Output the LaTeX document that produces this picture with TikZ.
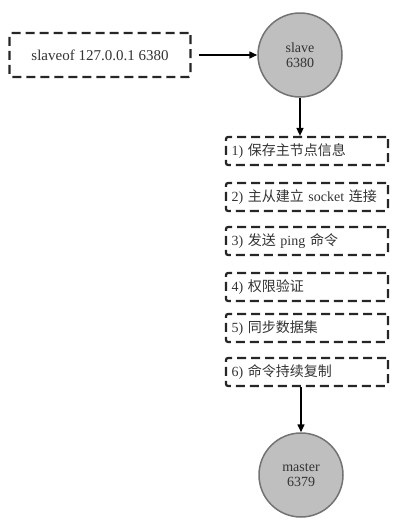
\documentclass[tikz,border=0pt]{standalone}
\usepackage{fontspec}
\setmainfont{Liberation Serif}
\newfontfamily\cjk{Noto Sans CJK SC}
\usetikzlibrary{arrows.meta}
\begin{document}
\begin{tikzpicture}[x=1pt,y=-1pt,
  dbox/.style={draw=black!85, line width=2.2pt, dash pattern=on 9pt off 5pt, rounded corners=2pt, minimum height=28pt, inner sep=0pt},
  stepbox/.style={dbox, minimum width=162pt, inner xsep=5.5pt, text width=151pt, align=left, font=\fontsize{14}{16}\selectfont, text=black!80},
  srv/.style={circle, draw=black!55, line width=1.5pt, fill=black!25, minimum size=84pt, inner sep=0pt, align=center, font=\fontsize{14}{15}\selectfont, text=black!80},
  conn/.style={line width=1.5pt, -{Triangle[length=8pt,width=7pt]}}]
\useasboundingbox (0,0) rectangle (405,525);
\node[dbox, minimum width=181pt, minimum height=44pt, font=\fontsize{15}{16}\selectfont, text=black!80] (cmd) at (100,55) {slaveof 127.0.0.1 6380};
\node[srv] (slave) at (300,55) {slave\\6380};
\node[stepbox] (s1) at (307,151) {1) {\cjk 保存主节点信息}};
\node[stepbox] (s2) at (307,197) {\mbox{2) {\cjk 主从建立} socket {\cjk 连接}}};
\node[stepbox] (s3) at (307,241) {3) {\cjk 发送} ping {\cjk 命令}};
\node[stepbox] (s4) at (307,287) {4) {\cjk 权限验证}};
\node[stepbox] (s5) at (307,328) {5) {\cjk 同步数据集}};
\node[stepbox] (s6) at (307,372) {6) {\cjk 命令持续复制}};
\node[srv] (master) at (301,475) {master\\6379};
\draw[conn] (cmd.east) ++(7pt,0) coordinate (c0) -- (slave.west);
\draw[conn] (slave.south) -- (slave.south |- s1.north);
\draw[conn] (s6.south -| master.north) -- (master.north);
\end{tikzpicture}
\end{document}
